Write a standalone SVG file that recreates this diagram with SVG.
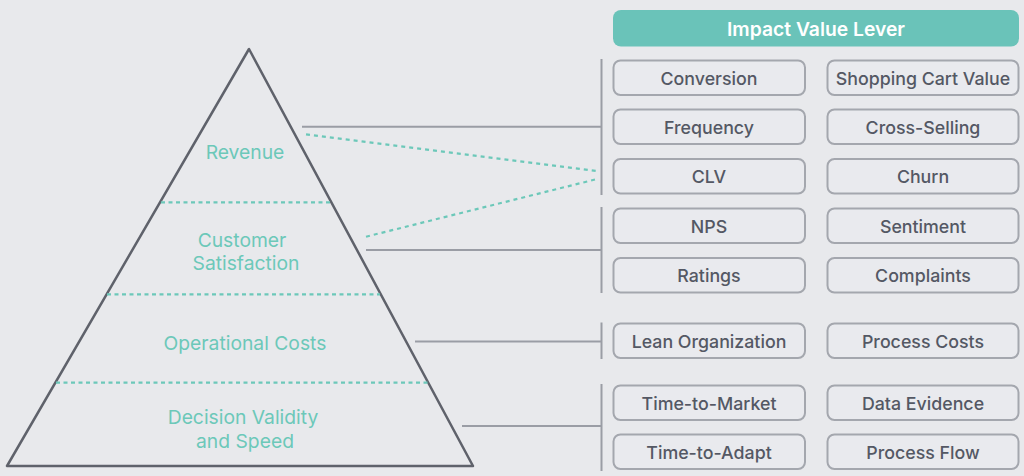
<svg xmlns="http://www.w3.org/2000/svg" width="1024" height="476" viewBox="0 0 1024 476">
<style>
.bg{fill:#e8e9ec}
.tri{fill:none;stroke:#5f626b;stroke-width:2.5;stroke-linejoin:round}
.sep{stroke:#6cc8b9;stroke-width:2.2;stroke-dasharray:4 3.5;fill:none}
.lbl{font-family:Inter,"Liberation Sans",sans-serif;font-size:19.3px;fill:#6cc8b9;text-anchor:middle;dominant-baseline:central}
.conn{stroke:#9a9da5;stroke-width:2;fill:none}
.dash{stroke:#6cc8b9;stroke-width:2.2;stroke-dasharray:4 4;fill:none}
.box{fill:#e9eaee;stroke:#a4a7ae;stroke-width:2}
.bt{font-family:Inter,"Liberation Sans",sans-serif;font-size:17.8px;font-weight:500;fill:#545864;text-anchor:middle;dominant-baseline:central}
.hdr{fill:#6ac3b9}
.ht{font-family:Inter,"Liberation Sans",sans-serif;font-size:19.3px;font-weight:600;fill:#ffffff;text-anchor:middle;dominant-baseline:central}
</style>
<rect class="bg" x="0" y="0" width="1024" height="476"/>
<g id="pyramid">
<path class="tri" d="M249,49 L7,466 L473,466 Z"/>
<line class="sep" x1="161" y1="202.3" x2="331" y2="202.3"/>
<line class="sep" x1="107" y1="294.3" x2="380" y2="294.3"/>
<line class="sep" x1="56" y1="382.7" x2="428" y2="382.7"/>
</g>
<g id="revenue"><text class="lbl" x="245" y="151.5">Revenue</text></g>
<g id="customer-satisfaction"><text class="lbl" x="242" y="240">Customer</text><text class="lbl" x="246" y="263">Satisfaction</text></g>
<g id="operational-costs"><text class="lbl" x="245" y="342.5">Operational Costs</text></g>
<g id="decision-validity"><text class="lbl" x="243" y="416.5">Decision Validity</text><text class="lbl" x="245" y="440.5">and Speed</text></g>
<g id="connectors">
<line class="conn" x1="302" y1="126.7" x2="601.5" y2="126.7"/>
<line class="conn" x1="601.5" y1="59" x2="601.5" y2="195"/>
<line class="conn" x1="366" y1="250" x2="601.5" y2="250"/>
<line class="conn" x1="601.5" y1="207" x2="601.5" y2="293"/>
<line class="conn" x1="415" y1="341.5" x2="601.5" y2="341.5"/>
<line class="conn" x1="601.5" y1="322.5" x2="601.5" y2="359"/>
<line class="conn" x1="462" y1="426" x2="601.5" y2="426"/>
<line class="conn" x1="601.5" y1="384" x2="601.5" y2="471"/>
<line class="dash" x1="306" y1="134.3" x2="596" y2="171"/>
<line class="dash" x1="366" y1="236.7" x2="596" y2="179.3"/>
</g>
<g id="header"><rect class="hdr" x="613" y="10" width="406" height="36.5" rx="8"/><text class="ht" x="816" y="29">Impact Value Lever</text></g>
<g id="conversion"><rect class="box" x="613.5" y="60.5" width="191.5" height="34.5" rx="7"/><text class="bt" x="709" y="78">Conversion</text></g>
<g id="shopping-cart-value"><rect class="box" x="827.5" y="60.5" width="191" height="34.5" rx="7"/><text class="bt" x="923" y="78">Shopping Cart Value</text></g>
<g id="frequency"><rect class="box" x="613.5" y="109.5" width="191.5" height="34.5" rx="7"/><text class="bt" x="709" y="127">Frequency</text></g>
<g id="cross-selling"><rect class="box" x="827.5" y="109.5" width="191" height="34.5" rx="7"/><text class="bt" x="923" y="127">Cross-Selling</text></g>
<g id="clv"><rect class="box" x="613.5" y="159" width="191.5" height="34.5" rx="7"/><text class="bt" x="709" y="176.5">CLV</text></g>
<g id="churn"><rect class="box" x="827.5" y="159" width="191" height="34.5" rx="7"/><text class="bt" x="923" y="176.5">Churn</text></g>
<g id="nps"><rect class="box" x="613.5" y="208.5" width="191.5" height="34.5" rx="7"/><text class="bt" x="709" y="226">NPS</text></g>
<g id="sentiment"><rect class="box" x="827.5" y="208.5" width="191" height="34.5" rx="7"/><text class="bt" x="923" y="226">Sentiment</text></g>
<g id="ratings"><rect class="box" x="613.5" y="258" width="191.5" height="34.5" rx="7"/><text class="bt" x="709" y="275.5">Ratings</text></g>
<g id="complaints"><rect class="box" x="827.5" y="258" width="191" height="34.5" rx="7"/><text class="bt" x="923" y="275.5">Complaints</text></g>
<g id="lean-organization"><rect class="box" x="613.5" y="323.5" width="191.5" height="34.5" rx="7"/><text class="bt" x="709" y="341">Lean Organization</text></g>
<g id="process-costs"><rect class="box" x="827.5" y="323.5" width="191" height="34.5" rx="7"/><text class="bt" x="923" y="341">Process Costs</text></g>
<g id="time-to-market"><rect class="box" x="613.5" y="385.5" width="191.5" height="34.5" rx="7"/><text class="bt" x="709" y="403">Time-to-Market</text></g>
<g id="data-evidence"><rect class="box" x="827.5" y="385.5" width="191" height="34.5" rx="7"/><text class="bt" x="923" y="403">Data Evidence</text></g>
<g id="time-to-adapt"><rect class="box" x="613.5" y="434.5" width="191.5" height="34.5" rx="7"/><text class="bt" x="709" y="452">Time-to-Adapt</text></g>
<g id="process-flow"><rect class="box" x="827.5" y="434.5" width="191" height="34.5" rx="7"/><text class="bt" x="923" y="452">Process Flow</text></g>
</svg>
